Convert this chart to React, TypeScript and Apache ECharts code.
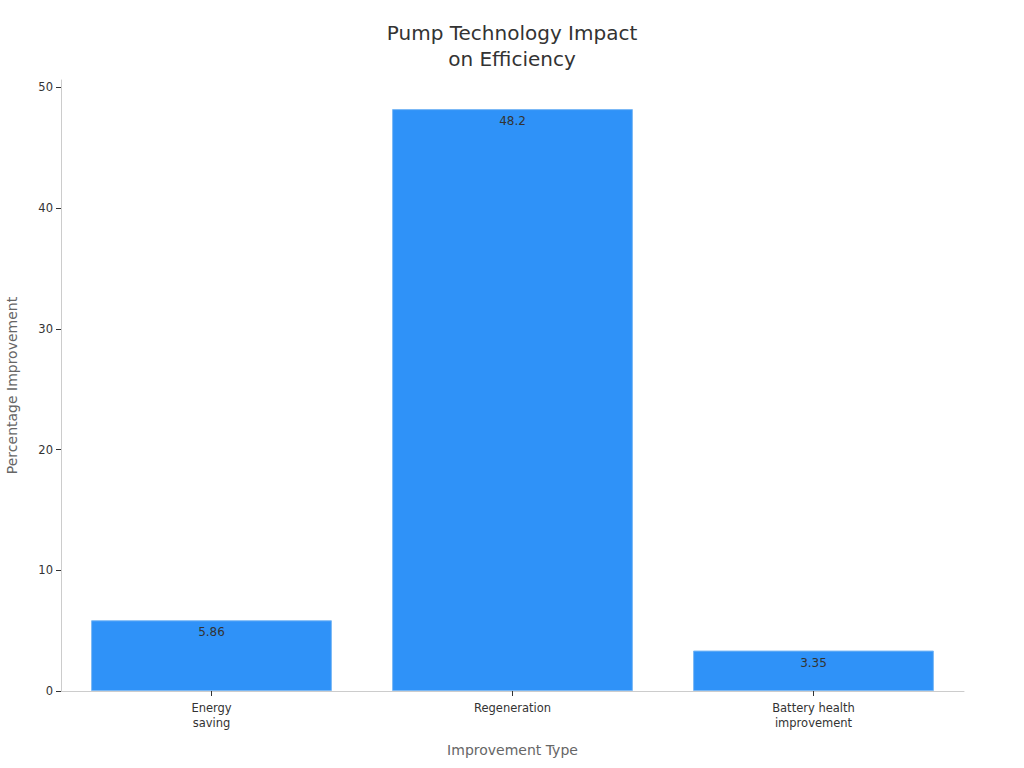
import React, { useEffect, useRef } from "react";
import * as echarts from "echarts";

const categories = ["Energy\nsaving", "Regeneration", "Battery health\nimprovement"];
const values = [5.86, 48.2, 3.35];
const yTicks = [0, 10, 20, 30, 40, 50];

export default function App() {
  const ref = useRef<HTMLDivElement>(null);
  useEffect(() => {
    document.body.style.margin = "0";
    const chart = echarts.init(ref.current!, null, { renderer: "svg" });
    const font = "DejaVu Sans";
    chart.setOption({
      animation: false,
      backgroundColor: "#ffffff",
      textStyle: { fontFamily: font },
      title: {
        text: "Pump Technology Impact\non Efficiency",
        left: "center",
        top: 15,
        textStyle: { fontFamily: font, fontSize: 20, fontWeight: "normal", color: "#333333", lineHeight: 26 },
      },
      grid: { left: 61, right: 60, top: 80, bottom: 77, containLabel: false, outerBoundsMode: "none" },
      xAxis: {
        type: "category",
        data: categories,
        name: "Improvement Type",
        nameLocation: "middle",
        nameGap: 52,
        nameTextStyle: { fontFamily: font, fontSize: 14, color: "#666666" },
        axisLine: { show: true, lineStyle: { color: "#cccccc" } },
        axisTick: { show: true, alignWithLabel: true, length: 5, lineStyle: { color: "#333333" } },
        axisLabel: { fontFamily: font, fontSize: 11.5, color: "#333333", margin: 9, lineHeight: 15 },
      },
      yAxis: {
        type: "value",
        min: 0,
        max: 50.61,
        interval: 10,
        name: "Percentage Improvement",
        nameLocation: "middle",
        nameGap: 42,
        nameTextStyle: { fontFamily: font, fontSize: 14, color: "#666666" },
        axisLine: { show: true, lineStyle: { color: "#cccccc" } },
        axisTick: { show: true, length: 5, lineStyle: { color: "#333333" }, customValues: yTicks },
        axisLabel: { fontFamily: font, fontSize: 11.5, color: "#333333", margin: 8, customValues: yTicks },
        splitLine: { show: false },
      },
      series: [
        {
          type: "bar",
          data: values,
          barWidth: "80%",
          itemStyle: { color: "#2f92f8", borderColor: "#7ab8f5", borderWidth: 1 },
          label: {
            show: true,
            position: "insideTop",
            distance: 6,
            fontFamily: font,
            fontSize: 12,
            color: "#333333",
          },
        },
      ],
    });
    return () => chart.dispose();
  }, []);
  return <div ref={ref} style={{ width: 1024, height: 768 }} />;
}
